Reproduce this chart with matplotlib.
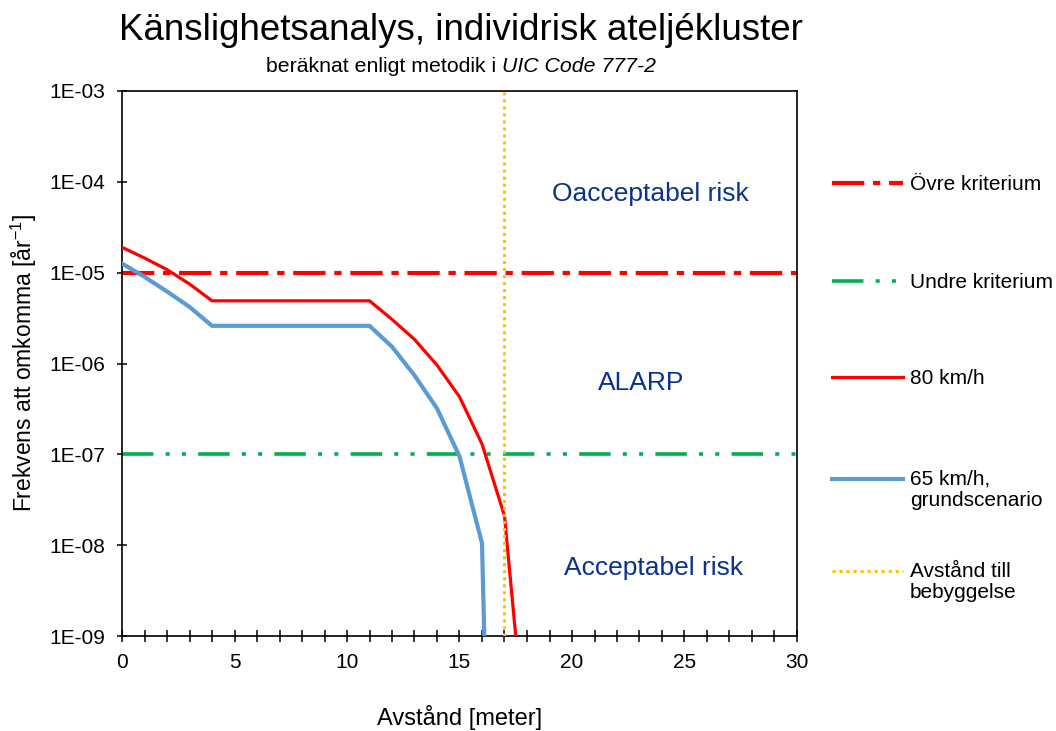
import matplotlib
matplotlib.use("Agg")
import matplotlib.pyplot as plt
from matplotlib.ticker import FixedLocator, MultipleLocator, FixedFormatter
from matplotlib.legend_handler import HandlerLine2D
import numpy as np

plt.rcParams['font.family'] = ['Liberation Sans', 'DejaVu Sans']
plt.rcParams['mathtext.fontset'] = 'custom'
plt.rcParams['mathtext.rm'] = 'Liberation Sans'
plt.rcParams['mathtext.it'] = 'Liberation Sans:italic'

# ---- data ----
dist_80 = [0, 1, 2, 3, 4, 5, 6, 7, 8, 9, 10, 11, 12, 13, 14, 15, 16, 17, 18]
freq_80 = [1.9e-5, 1.45e-5, 1.08e-5, 7.5e-6, 4.9e-6, 4.9e-6, 4.9e-6, 4.9e-6, 4.9e-6,
           4.9e-6, 4.9e-6, 4.9e-6, 3.06e-6, 1.84e-6, 9.6e-7, 4.3e-7, 1.3e-7, 2.1e-8, 4.7e-11]
dist_65 = [0, 1, 2, 3, 4, 5, 6, 7, 8, 9, 10, 11, 12, 13, 14, 15, 16, 17]
freq_65 = [1.26e-5, 9.0e-6, 6.2e-6, 4.2e-6, 2.6e-6, 2.6e-6, 2.6e-6, 2.6e-6, 2.6e-6,
           2.6e-6, 2.6e-6, 2.6e-6, 1.53e-6, 7.4e-7, 3.2e-7, 9.5e-8, 1.05e-8, 1.0e-18]
ovre_kriterium = 1e-5
undre_kriterium = 1e-7
avstand_bebyggelse = 17
x_range = [0, 30]

y_tick_values = [1e-9, 1e-8, 1e-7, 1e-6, 1e-5, 1e-4, 1e-3]
y_tick_labels = ['1E-09', '1E-08', '1E-07', '1E-06', '1E-05', '1E-04', '1E-03']
x_tick_values = [0, 5, 10, 15, 20, 25, 30]

region_labels = ['Oacceptabel risk', 'ALARP', 'Acceptabel risk']
region_x = [23.47, 23.07, 23.64]
region_y = [7.35e-5, 6.08e-7, 5.6e-9]

legend_labels = ['Övre kriterium', 'Undre kriterium', '80 km/h',
                 '65 km/h,\ngrundscenario', 'Avstånd till\nbebyggelse']


class ShiftedLineHandler(HandlerLine2D):
    """Puts the legend line on the first text line of a two-line label."""
    def __init__(self, shift_pt=0.0, **kw):
        super().__init__(**kw)
        self.shift_pt = shift_pt

    def create_artists(self, legend, orig_handle, xdescent, ydescent, width,
                       height, fontsize, trans):
        return super().create_artists(legend, orig_handle, xdescent,
                                      ydescent - 2 * self.shift_pt, width,
                                      height, fontsize, trans)


# ---- figure ----
W, H = 1056, 731
fig = plt.figure(figsize=(W / 100, H / 100), dpi=100)
ax = fig.add_axes([122 / W, 1 - 636 / H, (797 - 122) / W, (636 - 91) / H])

ax.set_yscale('log')
ax.set_xlim(*x_range)
ax.set_ylim(1e-9, 1e-3)

h_ovre, = ax.plot(x_range, [ovre_kriterium] * 2, color='#FF0000', lw=3,
                  dashes=(7.75, 2.1, 1.75, 2.1), dash_capstyle='butt', zorder=2)
h_undre, = ax.plot(x_range, [undre_kriterium] * 2, color='#00B050', lw=2.6,
                   dashes=(8.7, 3.4, 1.1, 3.4, 1.1, 3.4), dash_capstyle='butt', zorder=2)
h_80, = ax.plot(dist_80, freq_80, color='#FF0000', lw=2.3, zorder=3,
                solid_joinstyle='miter')
h_65, = ax.plot(dist_65, freq_65, color='#5B9BD5', lw=3, zorder=3,
                solid_joinstyle='miter')
h_byg = ax.axvline(avstand_bebyggelse, color='#FFC000', lw=2.2,
                   dashes=(1, 1.3), dash_capstyle='butt', zorder=4)

for lab, xx, yy in zip(region_labels, region_x, region_y):
    ax.text(xx, yy, lab, color='#0B318F', fontsize=19, ha='center', va='center')

# ticks
ax.yaxis.set_major_locator(FixedLocator(y_tick_values))
ax.yaxis.set_major_formatter(FixedFormatter(y_tick_labels))
ax.yaxis.set_minor_locator(FixedLocator([]))
ax.xaxis.set_major_locator(FixedLocator(x_tick_values))
ax.xaxis.set_minor_locator(MultipleLocator(1))
ax.tick_params(axis='x', which='both', direction='inout', length=8, width=1.1,
               labelsize=15, pad=8)
ax.tick_params(axis='y', which='major', direction='inout', length=7.5, width=1.1,
               labelsize=15, pad=8.5)
ax.tick_params(axis='y', which='minor', length=0)
for s in ax.spines.values():
    s.set_linewidth(1.2)

ax.set_xlabel('Avstånd [meter]', fontsize=17, labelpad=24)
ax.set_ylabel(r'Frekvens att omkomma [år$^{\mathregular{-1}}$]', fontsize=16.5, labelpad=7)

fig.text(461 / W, 1 - 30 / H, 'Känslighetsanalys, individrisk ateljékluster',
         fontsize=26.5, ha='center', va='center')
t_sub = fig.text(266 / W, 1 - 76 / H, 'beräknat enligt metodik i',
                 fontsize=15.3, ha='left', va='bottom')
fig.add_artist(matplotlib.text.Annotation(
    'UIC Code 777-2', xy=(1, 0), xycoords=t_sub, xytext=(4.3, 0),
    textcoords='offset points', fontsize=15.3, style='italic',
    ha='left', va='bottom'))

# legend: one entry per legend, placed like the reference
handles = [h_ovre, h_undre, h_80, h_65, h_byg]
entry_centers = [185, 283, 379, 490, 582]   # pixel rows of the text blocks
shifts = [0, 0, 0, 8, 8]                    # handle on first line (pt)
for hnd, lab, yc, sh in zip(handles, legend_labels, entry_centers, shifts):
    lg = fig.legend([hnd], [lab], loc='center left',
                    bbox_to_anchor=(832 / W, 1 - yc / H),
                    frameon=False, fontsize=15, handlelength=3.4,
                    handletextpad=0.35, borderpad=0, borderaxespad=0,
                    handler_map={hnd: ShiftedLineHandler(shift_pt=sh)})
    for t in lg.get_texts():
        t.set_linespacing(1.15)

fig.savefig('out.png', dpi=100)
